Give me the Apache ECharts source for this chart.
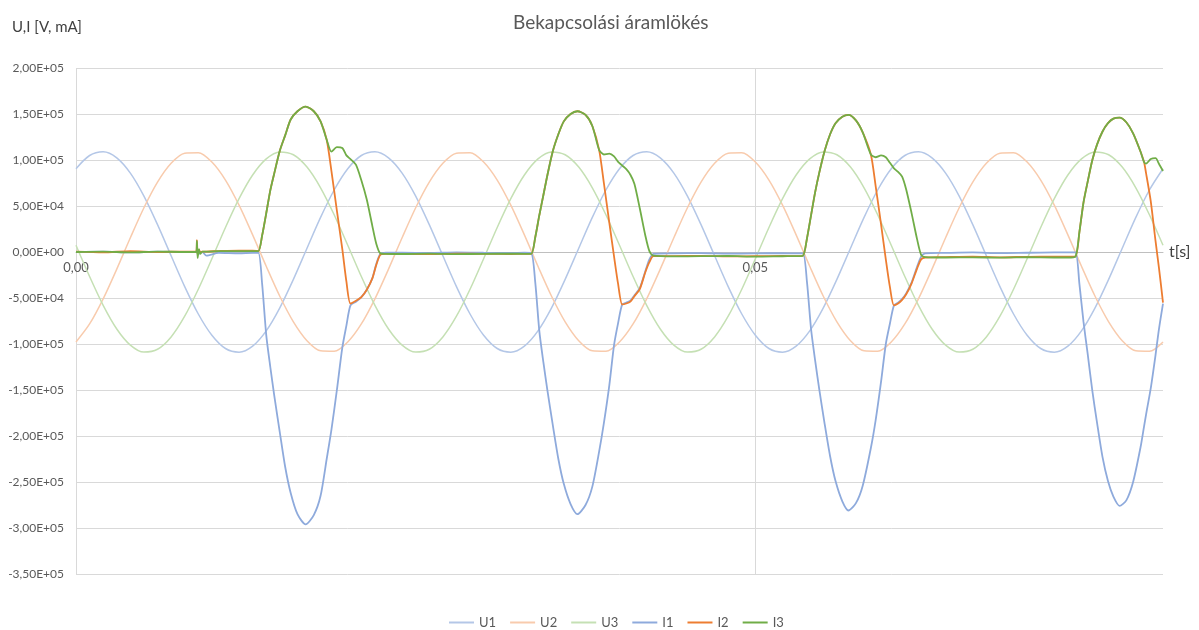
<!DOCTYPE html>
<html>
<head>
<meta charset="utf-8">
<script src="https://cdn.jsdelivr.net/npm/echarts@6/dist/echarts.min.js"></script>
<style>
html,body{margin:0;padding:0;background:#fff;}
#chart{width:1199px;height:630px;}
</style>
</head>
<body>
<div id="chart"></div>
<script>
// All values, in thousands (x1000) ; time in ms
const UNIT = 1000;
const title = 'Bekapcsolási áramlökés';
const yName = 'U,I [V, mA]';
const xName = 't[s]';
const seriesNames = ['U1','U2','U3','I1','I2','I3'];

// voltage sampling times (ms)
const tU = [0,1,2,3,4,5,6,7,8,9,10,11,12,13,14,15,16,17,18,19,
  20,21,22,23,24,25,26,27,28,29,30,31,32,33,34,35,36,37,38,39,
  40,41,42,43,44,45,46,47,48,49,50,51,52,53,54,55,56,57,58,59,
  60,61,62,63,64,65,66,67,68,69,70,71,72,73,74,75,76,77,78,79,80];

const U1 = [90.5,104.9,108.9,102.3,85.7,60.7,29.7,-4.1,-37.6,-67.4,-90.5,-104.9,-108.9,-102.3,-85.7,-60.7,-29.7,4.1,37.6,67.4,
  90.5,104.9,108.9,102.3,85.7,60.7,29.7,-4.1,-37.6,-67.4,-90.5,-104.9,-108.9,-102.3,-85.7,-60.7,-29.7,4.1,37.6,67.4,
  90.5,104.9,108.9,102.3,85.7,60.7,29.7,-4.1,-37.6,-67.4,-90.5,-104.9,-108.9,-102.3,-85.7,-60.7,-29.7,4.1,37.6,67.4,
  90.5,104.9,108.9,102.3,85.7,60.7,29.7,-4.1,-37.6,-67.4,-90.5,-104.9,-108.9,-102.3,-85.7,-60.7,-29.7,4.1,37.6,67.4,
  90.5];
const U2 = [-97.8,-78.2,-50.9,-18.6,15.5,48.1,75.9,96.4,107.4,107.9,97.8,78.2,50.9,18.6,-15.5,-48.1,-75.9,-96.4,-107.4,-107.9,
  -97.8,-78.2,-50.9,-18.6,15.5,48.1,75.9,96.4,107.4,107.9,97.8,78.2,50.9,18.6,-15.5,-48.1,-75.9,-96.4,-107.4,-107.9,
  -97.8,-78.2,-50.9,-18.6,15.5,48.1,75.9,96.4,107.4,107.9,97.8,78.2,50.9,18.6,-15.5,-48.1,-75.9,-96.4,-107.4,-107.9,
  -97.8,-78.2,-50.9,-18.6,15.5,48.1,75.9,96.4,107.4,107.9,97.8,78.2,50.9,18.6,-15.5,-48.1,-75.9,-96.4,-107.4,-107.9,
  -97.8];
const U3 = [7.3,-26.7,-58.0,-83.7,-101.2,-108.8,-105.7,-92.3,-69.8,-40.5,-7.3,26.7,58.0,83.7,101.2,108.8,105.7,92.3,69.8,40.5,
  7.3,-26.7,-58.0,-83.7,-101.2,-108.8,-105.7,-92.3,-69.8,-40.5,-7.3,26.7,58.0,83.7,101.2,108.8,105.7,92.3,69.8,40.5,
  7.3,-26.7,-58.0,-83.7,-101.2,-108.8,-105.7,-92.3,-69.8,-40.5,-7.3,26.7,58.0,83.7,101.2,108.8,105.7,92.3,69.8,40.5,
  7.3,-26.7,-58.0,-83.7,-101.2,-108.8,-105.7,-92.3,-69.8,-40.5,-7.3,26.7,58.0,83.7,101.2,108.8,105.7,92.3,69.8,40.5,
  7.3];

// current sampling times (ms)
const tI = [0,2,4,6,8,8.85,8.9,8.95,9.05,9.15,9.3,9.6,10.5,12,13.0,
  13.42,13.7,14.0,14.3,14.6,15.0,15.4,15.8,16.3,16.9,17.5,18.0,18.45,18.8,19.2,19.6,19.9,20.2,20.6,21.0,21.4,21.8,22.1,22.4,22.8,
  24,26,28,30,32,33.0,
  33.5,33.8,34.1,34.4,34.7,35.1,35.5,35.9,36.4,36.9,37.5,38.0,38.5,38.85,39.25,39.6,39.9,40.2,40.5,40.8,41.1,41.5,41.9,42.2,42.5,
  44,46,48,50,52,53.0,
  53.5,53.8,54.1,54.4,54.7,55.1,55.5,55.9,56.4,56.85,57.4,57.9,58.5,58.85,59.25,59.6,59.9,60.2,60.5,60.8,61.1,61.5,61.9,62.2,62.5,
  64,66,68,70,72,73.0,
  73.55,73.85,74.15,74.45,74.8,75.15,75.55,75.95,76.35,76.8,77.3,77.8,78.35,78.6,78.75,79.1,79.45,79.7,80.0];

const I1 = [0,0.5,-0.5,0.3,0,0,0,-1,-2,-1,0,-4,-1,-1.5,-1,
  -1,-35,-90,-125,-157,-196,-234,-262,-285,-296,-286,-265,-225,-193,-150,-104,-80,-58,-54,-49,-41,-29,-13,-2,-0.7,
  -0.7,-1,-0.5,-0.8,-1,-0.7,
  -1,-33,-86,-120,-151,-189,-225,-252,-274,-285,-275,-255,-217,-186,-145,-101,-77,-57,-55,-53,-47,-39,-21,-8,-2,
  -1.5,-1.2,-1.8,-1.5,-1.3,-1.5,
  -1.5,-33,-84,-118,-149,-187,-222,-249,-271,-281,-273,-254,-213,-183,-141,-100,-78,-58,-55,-51,-45,-33,-16,-5,-1.5,
  -1,-0.5,-1.2,-0.8,-0.5,-0.5,
  -0.5,-35,-76,-110,-151,-186,-223,-249,-266,-276,-270,-250,-212,-190,-177,-148,-112,-84,-56];

const I2 = [0.5,-0.3,0.8,0,0.5,0.5,13,-3,2,0,0.5,0.5,1,1.5,1.5,
  1,18,42,67,86,110,127,144,153,158,153,142,122,88,45,3,-32,-56,-53,-49,-41,-29,-14,-3,-2,
  -2,-2.3,-1.8,-2,-2.2,-2,
  -2,16,40,62,84,110,128,142,150,153,149,137,111,75,32,-5,-35,-57,-56,-54,-48,-40,-22,-11,-4.5,
  -4.5,-4.2,-4.8,-4.5,-4.3,-4.5,
  -4,15,40,65,86,110,128,140,147,149,143,130,106,72,30,-8,-38,-58,-56,-52,-46,-34,-18,-8,-6,
  -5.5,-5,-5.8,-5.2,-5,-5,
  -5,22,54,76,100,117,131,140,145,146,141,129,109,98,86,55,12,-17,-55];

const I3 = [0,0.5,-0.5,0.5,0,0,12,-6.5,3,-2,0.5,0.5,1,1,1,
  1,18,42,67,86,110,127,144,153,158,153,142,122,109,114,113,105,101,95,78,57,29,9,-1.5,-2,
  -2.2,-1.8,-2.3,-2,-1.8,-2,
  -2,16,40,62,84,110,128,142,150,153,149,137,111,106,107,104,98,94,90,84,74,47,18,1,-4,
  -4.8,-4.5,-4.3,-5,-4.6,-4.5,
  -4,15,40,65,86,110,128,140,147,149,143,130,106,103,105,103,97,91,87,82,68,42,14,-3,-5.5,
  -6,-5.8,-6.2,-5.7,-6,-6,
  -5,22,54,76,100,117,131,140,145,146,141,129,109,98,96,101,102,96,88];

const colors = ['#b4c7e7','#f8cbad','#c5e0b4','#8eaadc','#ed7d31','#70ad47'];

function pairs(t, v){ return t.map((x,i)=>[x, v[i]*UNIT]); }

function sciLabel(v){
  if (v === 0) return '0,00E+00';
  const s = v.toExponential(2);
  const p = s.split('e');
  const e = parseInt(p[1],10);
  const ae = Math.abs(e);
  return p[0].replace('.', ',') + 'E' + (e < 0 ? '-' : '+') + (ae < 10 ? '0' : '') + ae;
}

const font = 'Lato, "Open Sans", sans-serif';
const chart = echarts.init(document.getElementById('chart'));
const dataSets = [pairs(tU,U1), pairs(tU,U2), pairs(tU,U3), pairs(tI,I1), pairs(tI,I2), pairs(tI,I3)];

const gridTop = 68, gridBottom = 56, chartH = 630;
const yMin = -350000, yMax = 200000;
// distance from bottom of plot to the zero line, so the x axis sits on zero
const plotH = chartH - gridTop - gridBottom;
const zeroOffset = -plotH * (0 - yMin) / (yMax - yMin);

chart.setOption({
  animation: false,
  color: colors,
  textStyle: {fontFamily: font},
  title: {
    text: title, left: 508, top: 8,
    textStyle: {fontFamily: font, fontSize: 19, fontWeight: 'normal', color: '#595959'}
  },
  legend: {
    data: seriesNames, top: 611, left: 444,
    icon: 'rect', itemWidth: 25, itemHeight: 2, itemGap: 14,
    textStyle: {fontFamily: font, fontSize: 13, color: '#595959'}
  },
  grid: {left: 76, right: 36, top: gridTop, bottom: gridBottom, containLabel: false},
  xAxis: {
    type: 'value', min: 0, max: 80, interval: 50,
    position: 'bottom', offset: zeroOffset,
    name: xName, nameLocation: 'end', nameGap: 6,
    nameTextStyle: {fontFamily: font, fontSize: 16, color: '#404040'},
    axisLine: {show: true, onZero: false, lineStyle: {color: '#bfbfbf', width: 1}},
    axisTick: {show: false},
    axisLabel: {
      showMaxLabel: false, margin: 9, color: '#595959', fontSize: 13, fontFamily: font,
      formatter: v => (v/1000).toFixed(2).replace('.', ',')
    },
    splitLine: {show: true, showMaxLine: false, lineStyle: {color: '#d9d9d9', width: 1}}
  },
  yAxis: {
    type: 'value', min: yMin, max: yMax, interval: 50000,
    name: yName, nameLocation: 'end', nameGap: 33,
    nameTextStyle: {fontFamily: font, fontSize: 15, color: '#404040', align: 'center', padding: [0, 58, 0, 0]},
    axisLine: {show: false},
    axisTick: {show: false},
    axisLabel: {margin: 12, color: '#595959', fontSize: 12, fontFamily: font, formatter: sciLabel},
    splitLine: {show: true, lineStyle: {color: '#d9d9d9', width: 1}}
  },
  series: seriesNames.map((n, i) => ({
    name: n, type: 'line', symbol: 'none', data: dataSets[i],
    smooth: i < 3 ? 0.3 : 0.25,
    lineStyle: {width: i < 3 ? 1.5 : 1.8, color: colors[i]},
    itemStyle: {color: colors[i]},
    z: 2 + i
  }))
});
</script>
</body>
</html>
